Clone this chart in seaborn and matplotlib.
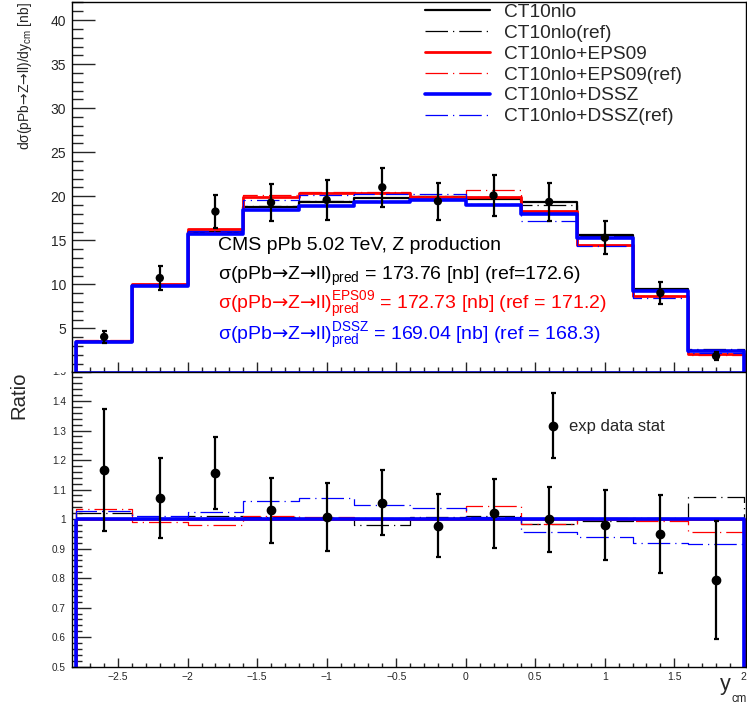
import numpy as np
import pandas as pd
import matplotlib
matplotlib.use("Agg")
import matplotlib.pyplot as plt
from matplotlib.lines import Line2D
from matplotlib.legend_handler import HandlerErrorbar
from matplotlib.ticker import MultipleLocator, FuncFormatter
from matplotlib.transforms import Bbox, TransformedBbox
import seaborn as sns

# ---------------- data ----------------
bin_edges = [-2.8, -2.4, -2.0, -1.6, -1.2, -0.8, -0.4, 0.0, 0.4, 0.8, 1.2, 1.6, 2.0]
bin_centers = [-2.6, -2.2, -1.8, -1.4, -1.0, -0.6, -0.2, 0.2, 0.6, 1.0, 1.4, 1.8]

ct10nlo = [3.50, 9.95, 15.95, 18.76, 19.40, 19.82, 19.90, 19.70, 19.32, 15.56, 9.48, 2.47]
ct10nlo_eps09 = [3.55, 10.09, 16.27, 19.90, 20.34, 20.38, 19.90, 19.90, 18.38, 14.42, 8.73, 2.10]
ct10nlo_dssz = [3.45, 9.82, 15.67, 18.46, 18.87, 19.32, 19.60, 18.99, 18.00, 15.30, 9.25, 2.40]

# ref / pred ratios (bottom panel dashed lines)
ratio_ct10nlo_ref = [1.020, 1.003, 1.010, 1.008, 1.005, 0.980, 1.007, 1.010, 0.982, 0.995, 1.005, 1.075]
ratio_eps09_ref = [1.034, 0.991, 0.980, 1.012, 1.006, 1.003, 1.005, 1.043, 0.985, 1.005, 0.992, 0.955]
ratio_dssz_ref = [1.026, 1.012, 1.023, 1.060, 1.070, 1.047, 1.036, 1.006, 0.956, 0.939, 0.919, 0.916]

exp_data = [4.05, 10.73, 18.27, 19.29, 19.59, 21.02, 19.44, 20.10, 19.37, 15.30, 9.03, 1.87]
exp_err = [0.72, 1.32, 1.90, 2.10, 2.25, 2.20, 2.10, 2.30, 2.15, 1.90, 1.25, 0.50]

ratio_data = [1.166, 1.072, 1.156, 1.030, 1.007, 1.056, 0.978, 1.020, 1.000, 0.980, 0.950, 0.795]
ratio_data_err = [0.206, 0.135, 0.122, 0.110, 0.116, 0.111, 0.108, 0.117, 0.110, 0.120, 0.133, 0.200]

series_names = ["CT10nlo", "CT10nlo(ref)", "CT10nlo+EPS09", "CT10nlo+EPS09(ref)",
                "CT10nlo+DSSZ", "CT10nlo+DSSZ(ref)"]
ARROW = "$\\mathsf{→}$"
proc = "σ(pPb" + ARROW + "Z" + ARROW + "ll)"
xsec_texts = ["CMS pPb 5.02 TeV, Z production",
              proc + "$_{\\mathrm{pred}}$ = 173.76 [nb] (ref=172.6)",
              proc + "$^{\\mathrm{EPS09}}_{\\mathrm{pred}}$ = 172.73 [nb] (ref = 171.2)",
              proc + "$^{\\mathrm{DSSZ}}_{\\mathrm{pred}}$ = 169.04 [nb] (ref = 168.3)"]
ylabel_top = "dσ(pPb" + ARROW + "Z" + ARROW + "ll)/dy$_{\\mathrm{cm}}$ [nb]"

# ---------------- style ----------------
sns.set_theme(style="ticks")
plt.rcParams['font.family'] = ['Liberation Sans', 'DejaVu Sans']
plt.rcParams['mathtext.fontset'] = 'custom'
plt.rcParams['mathtext.rm'] = 'Liberation Sans'
plt.rcParams['mathtext.it'] = 'Liberation Sans:italic'
plt.rcParams['mathtext.bf'] = 'Liberation Sans:bold'
plt.rcParams['mathtext.sf'] = 'DejaVu Sans'
plt.rcParams['axes.linewidth'] = 1.0
plt.rcParams['axes.edgecolor'] = 'black'
plt.rcParams['lines.solid_joinstyle'] = 'miter'

W, H = 747, 704
fig = plt.figure(figsize=(W / 100, H / 100), dpi=100)

def fx(p):
    return p / W

def fy(p):
    return 1 - p / H

left, right = 71.5, 745.5
mid = 371.5
ax1 = fig.add_axes([fx(left), fy(mid), fx(right - left), fy(2) - fy(mid)])
ax2 = fig.add_axes([fx(left), fy(666.7), fx(right - left), fy(mid) - fy(666.7)])
ax1.set_zorder(2)
ax2.set_zorder(1)

dash_ref = (0, (18, 4, 1, 4))
colors = ['black', 'black', '#ff0000', '#ff0000', '#0000ff', '#0000ff']
widths = [1.6, 0.9, 2.0, 0.9, 2.6, 0.9]
styles = ['-', dash_ref, '-', dash_ref, '-', dash_ref]

preds = [np.asarray(ct10nlo), np.asarray(ct10nlo_eps09), np.asarray(ct10nlo_dssz)]
ref_ratios = [np.asarray(ratio_ct10nlo_ref), np.asarray(ratio_eps09_ref), np.asarray(ratio_dssz_ref)]

top_series = []
bottom_series = []
for p, r in zip(preds, ref_ratios):
    top_series += [p, p * r]
    bottom_series += [p / p, r]


def step_hist(ax, vals, color, lw, ls):
    # outline of a step histogram, closed down to the baseline at both ends
    sns.histplot(x=bin_centers, weights=vals, bins=bin_edges, element='step',
                 fill=True, color=color, facecolor='none', edgecolor=color, alpha=1,
                 linewidth=lw, linestyle=ls, ax=ax)


for vals, c, lw, ls in zip(top_series, colors, widths, styles):
    step_hist(ax1, vals, c, lw, ls)
for vals, c, lw, ls in zip(bottom_series, colors, widths, styles):
    step_hist(ax2, vals, c, lw, ls)

# data points
ax1.errorbar(bin_centers, exp_data, yerr=exp_err, fmt='none', ecolor='black',
             elinewidth=1.6, capsize=1.8, capthick=1.6, zorder=5)
sns.scatterplot(x=bin_centers, y=exp_data, color='black', s=36, edgecolor='none',
                ax=ax1, zorder=6)
eb = ax2.errorbar(bin_centers, ratio_data, yerr=ratio_data_err, fmt='o', color='black',
                  markersize=6.0, elinewidth=1.6, capsize=1.8, capthick=1.6, zorder=5)

# axes ranges / ticks
xlo, xhi = -2.835, 2.012
for ax in (ax1, ax2):
    ax.set_xlim(xlo, xhi)
    ax.set_xlabel('')
    ax.set_ylabel('')
    for s in ax.spines.values():
        s.set_visible(True)
        s.set_color('black')
        s.set_linewidth(1.0)
    ax.xaxis.set_major_locator(MultipleLocator(0.5))
    ax.xaxis.set_minor_locator(MultipleLocator(0.1))
    ax.set_facecolor('white')

fmt = FuncFormatter(lambda v, p: f"{v:g}".replace('-', '\u2212'))

ax1.set_ylim(0.12, 42.05)
ax1.yaxis.set_major_locator(MultipleLocator(5))
ax1.yaxis.set_minor_locator(MultipleLocator(1))
ax1.yaxis.set_major_formatter(fmt)
ax1.tick_params(axis='y', which='major', direction='in', length=16.5, width=1.0,
                labelsize=10, pad=4)
ax1.tick_params(axis='y', which='minor', direction='in', length=8, width=1.0)
ax1.tick_params(axis='x', which='major', direction='in', length=7.2, width=1.0,
                labelbottom=False)
ax1.tick_params(axis='x', which='minor', direction='in', length=3.6, width=1.0)
ax1.set_yticks([5, 10, 15, 20, 25, 30, 35, 40])

ax2.set_ylim(0.5, 1.5)
ax2.yaxis.set_major_locator(MultipleLocator(0.1))
ax2.yaxis.set_minor_locator(MultipleLocator(0.02))
ax2.yaxis.set_major_formatter(fmt)
ax2.xaxis.set_major_formatter(fmt)
ax2.tick_params(axis='y', which='major', direction='in', length=13.7, width=1.0,
                labelsize=7.2, pad=4)
ax2.tick_params(axis='y', which='minor', direction='in', length=7, width=1.0)
ax2.tick_params(axis='x', which='major', direction='in', length=6.5, width=1.0,
                labelsize=7.5, pad=4)
ax2.tick_params(axis='x', which='minor', direction='in', length=3, width=1.0)

# legend (top)
handles = [Line2D([], [], color=c, lw=lw, ls=ls) for c, lw, ls in zip(colors, widths, styles)]
leg1 = ax1.legend(handles, series_names, loc='upper left',
                  bbox_to_anchor=(fx(425), fy(3.5)), bbox_transform=fig.transFigure,
                  frameon=False, fontsize=13.8, labelspacing=0.18, handlelength=3.4,
                  handletextpad=0.7, borderpad=0, borderaxespad=0)

# legend (bottom)
leg2 = ax2.legend([eb], ["exp data stat"], loc='center left',
                  bbox_to_anchor=(fx(539.5), fy(427)), bbox_transform=fig.transFigure,
                  frameon=False, fontsize=12, handlelength=1.6, handletextpad=0.15,
                  borderpad=0, borderaxespad=0,
                  handler_map={type(eb): HandlerErrorbar(xerr_size=0.65, yerr_size=1.95)})

# annotations
txt_colors = ['black', 'black', '#ff0000', '#0000ff']
txt_y = [250, 280, 309, 340]
for t, c, yy in zip(xsec_texts, txt_colors, txt_y):
    fig.text(fx(218), fy(yy), t, color=c, fontsize=14, ha='left', va='baseline')

# axis titles
fig.text(fx(25), fy(2), ylabel_top, rotation=90, ha='center', va='top', fontsize=10)
fig.text(fx(18.5), fy(371.5), "Ratio", rotation=90, ha='center', va='top', fontsize=14.7)
fig.text(fx(731), fy(690), "y", ha='right', va='baseline', fontsize=15.5)
fig.text(fx(731), fy(701.5), "cm", ha='left', va='baseline', fontsize=8.3)

# clip the top bottom-panel tick label like the reference pad does
fig.canvas.draw()
clipbox = TransformedBbox(Bbox([[0, 0], [1, 1 - mid / H]]), fig.transFigure)
for t in ax2.yaxis.get_major_ticks():
    t.label1.set_clip_box(clipbox)
    t.label1.set_clip_on(True)

fig.savefig("out.png", dpi=100)
